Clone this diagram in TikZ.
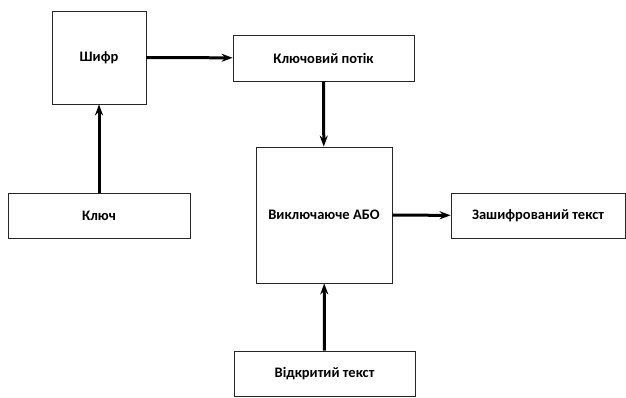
\documentclass[tikz,border=0pt]{standalone}
\usepackage{fontspec}
\setmainfont{Carlito}
\usetikzlibrary{arrows.meta}
\begin{document}
\begin{tikzpicture}[x=1pt,y=-1pt,
    blok/.style={draw=black!85,line width=0.8pt,inner sep=0pt,font=\fontsize{14.5}{17}\selectfont\bfseries},
    strilka/.style={line width=3pt,-{Stealth[length=11pt,width=8pt]}}]
      \useasboundingbox (0,0) rectangle (626,397);
      \draw
        (99,57.5) node[blok,minimum width=94pt,minimum height=93pt] (shyfr){Шифр}
        (323.5,58) node[blok,minimum width=181pt,minimum height=46pt] (potik){Ключовий потік}
        (99,215.5) node[blok,minimum width=182pt,minimum height=45pt] (kliuch){Ключ}
        (324,215) node[blok,minimum width=136pt,minimum height=136pt] (abo){Виключаюче АБО}
        (538,215.5) node[blok,minimum width=174pt,minimum height=45pt] (shyfrtekst){Зашифрований текст}
        (324.5,373.5) node[blok,minimum width=181pt,minimum height=45pt] (vidkrytyi){Відкритий текст};
      \begin{scope}[strilka]
        \draw (kliuch) to (shyfr);
        \draw (shyfr) to (potik);
        \draw (potik) to (abo);
        \draw (abo) to (shyfrtekst);
        \draw (vidkrytyi) to (abo);
      \end{scope}
    \end{tikzpicture}
\end{document}
